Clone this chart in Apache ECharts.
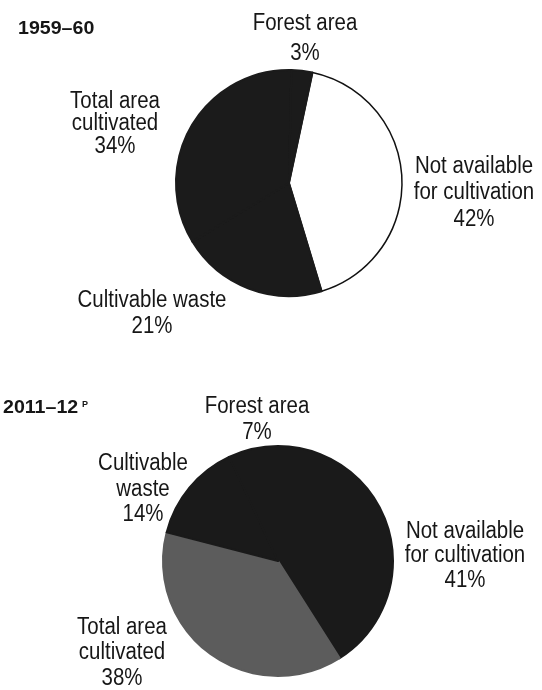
<!DOCTYPE html>
<html><head><meta charset="utf-8">
<script src="https://cdn.jsdelivr.net/npm/echarts@6/dist/echarts.min.js"></script>
<style>html,body{margin:0;padding:0;background:#fff}#c{width:542px;height:690px}</style>
</head><body><div id="c"></div>
<script>
// ---- data ----
const periods = ['1959–60', '2011–12'];
const periodSuperscripts = ['', 'P'];

const categories1959 = ['Not available for cultivation', 'Cultivable waste', 'Total area cultivated', 'Forest area'];
const labelNames1959 = ['Not available\nfor cultivation', 'Cultivable waste', 'Total area\ncultivated', 'Forest area'];
const values1959 = [42, 21, 34, 3];

const categories2011 = ['Not available for cultivation', 'Total area cultivated', 'Cultivable waste', 'Forest area'];
const labelNames2011 = ['Not available\nfor cultivation', 'Total area\ncultivated', 'Cultivable\nwaste', 'Forest area'];
const values2011 = [41, 38, 14, 7];

// ---- styles / layout ----
const fills1959 = ['#ffffff', '#1b1b1b', '#1b1b1b', '#1b1b1b'];
const borders1959 = ['#111111', '#1b1b1b', '#1b1b1b', '#1b1b1b'];
const fills2011 = ['#1a1a1a', '#5c5c5c', '#1a1a1a', '#1a1a1a'];
const borders2011 = ['#1a1a1a', '#5c5c5c', '#1a1a1a', '#1a1a1a'];
// label block centre x, centre y, line height (same order as categories)
const labelLayout1959 = [[474, 193, 26.5], [152, 314, 26], [115, 124, 22.5], [305, 39, 30]];
const labelLayout2011 = [[465, 556, 24.5], [122, 653, 25.5], [143, 489.5, 25.5], [257, 419.5, 26]];

const TEXT = '#161616';
const LABEL_FONT = '23.5px "Liberation Sans", Arial, sans-serif';

function pieData(cats, vals, fills, borders) {
  return cats.map((c, i) => ({
    name: c, value: vals[i],
    itemStyle: { color: fills[i], borderColor: borders[i], borderWidth: fills[i] === '#ffffff' ? 1.5 : 2 }
  }));
}
function labelTexts(names, vals, layout) {
  return names.map((n, i) => ({
    type: 'text', x: layout[i][0], y: layout[i][1], scaleX: 0.87, silent: true,
    style: {
      text: n + '\n' + vals[i] + '%', font: LABEL_FONT, fill: TEXT,
      align: 'center', textAlign: 'center', verticalAlign: 'middle', textVerticalAlign: 'middle',
      lineHeight: layout[i][2]
    }
  }));
}

const chart = echarts.init(document.getElementById('c'), null, { renderer: 'canvas' });
chart.setOption({
  animation: false,
  backgroundColor: '#ffffff',
  series: [
    {
      type: 'pie', center: [289, 183], radius: 113, startAngle: 78, clockwise: true,
      label: { show: false }, labelLine: { show: false }, silent: true,
      emphasis: { disabled: true },
      data: pieData(categories1959, values1959, fills1959, borders1959)
    },
    {
      type: 'pie', center: [278, 561], radius: 115, startAngle: 90, clockwise: true,
      label: { show: false }, labelLine: { show: false }, silent: true,
      emphasis: { disabled: true },
      data: pieData(categories2011, values2011, fills2011, borders2011)
    }
  ],
  graphic: [
    {
      type: 'text', x: 18, y: 29, scaleX: 1.12, silent: true,
      style: { text: periods[0] + periodSuperscripts[0], font: 'bold 17.5px "Liberation Sans", Arial, sans-serif', fill: TEXT,
        align: 'left', textAlign: 'left', verticalAlign: 'middle', textVerticalAlign: 'middle' }
    },
    {
      type: 'text', x: 3, y: 408.5, scaleX: 1.12, silent: true,
      style: { text: periods[1], font: 'bold 17.5px "Liberation Sans", Arial, sans-serif', fill: TEXT,
        align: 'left', textAlign: 'left', verticalAlign: 'middle', textVerticalAlign: 'middle' }
    },
    {
      type: 'text', x: 82, y: 405, silent: true,
      style: { text: periodSuperscripts[1], font: 'bold 9px "Liberation Sans", Arial, sans-serif', fill: TEXT,
        align: 'left', textAlign: 'left', verticalAlign: 'middle', textVerticalAlign: 'middle' }
    }
  ].concat(labelTexts(labelNames1959, values1959, labelLayout1959))
   .concat(labelTexts(labelNames2011, values2011, labelLayout2011))
});
</script>
</body></html>
